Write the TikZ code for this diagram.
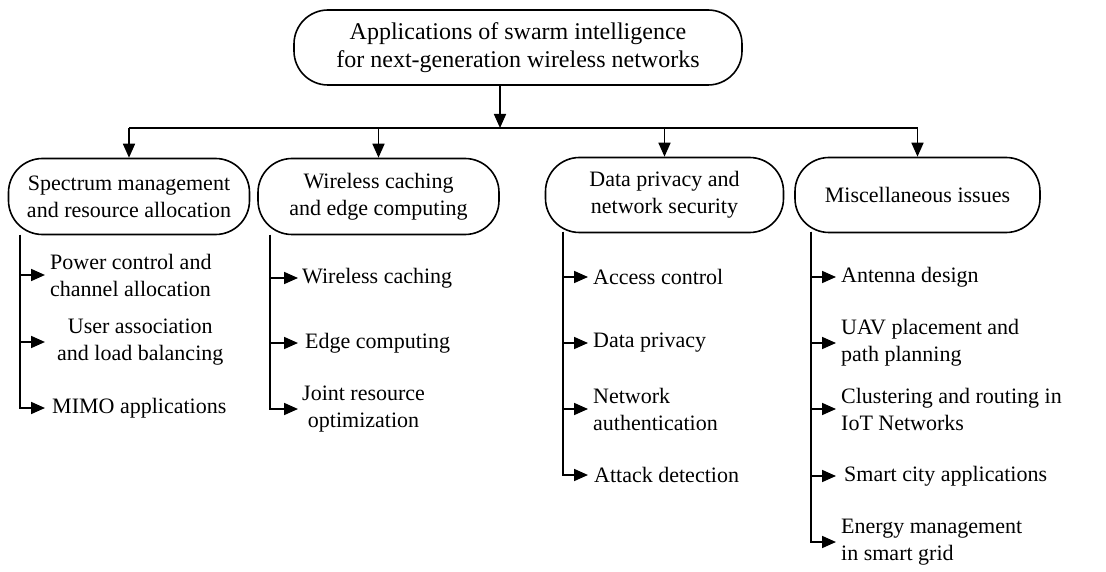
\documentclass[tikz,border=0pt]{standalone}
\usepackage{fontspec}
\setmainfont{Liberation Serif}
\usetikzlibrary{arrows.meta}
\begin{document}
\begin{tikzpicture}[x=1pt,y=-1pt,
  every node/.style={font=\fontsize{22}{27}\selectfont},
  rbox/.style={draw,line width=1.6pt,rounded corners=34pt,align=center,inner sep=0pt},
  item/.style={anchor=west,inner xsep=5pt,inner ysep=0pt},
  ln/.style={line width=1.7pt},
  arr/.style={line width=1.7pt,-{Triangle[length=14pt,width=12pt]}}]
\useasboundingbox (0,0) rectangle (1106,572);
% root
\node[rbox,minimum width=448pt,minimum height=75pt,font=\fontsize{24}{28}\selectfont] (root) at (518,47.5)
  {Applications of swarm intelligence\\for next-generation wireless networks};
% level 1
\node[rbox,minimum width=241pt,minimum height=76pt] (b1) at (129,196.5) {Spectrum management\\and resource allocation};
\node[rbox,minimum width=241pt,minimum height=76pt] (b2) at (378.5,196.5) {Wireless caching\\and edge computing};
\node[rbox,minimum width=238pt,minimum height=75pt] (b3) at (664.5,195) {Data privacy and\\network security};
\node[rbox,minimum width=245pt,minimum height=75pt] (b4) at (917.5,195) {Miscellaneous issues};
% junction
\coordinate (j) at (500,128);
\draw[arr] (root.south -| j) -- (j);
\draw[ln] (b1.north |- j) -- (b4.north |- j);
\foreach \b in {b1,b2,b3,b4} \draw[arr] (\b.north |- j) -- (\b.north);
% spines
\coordinate (s1) at (20,235);
\coordinate (s2) at (270,235);
\coordinate (s3) at (563,232);
\coordinate (s4) at (811,232);
% items box1
\node[item,align=left] (i11) at (45,275) {Power control and\\channel allocation};
\node[item,align=center,inner xsep=12pt] (i12) at (45,342) {User association\\and load balancing};
\node[item,inner xsep=7pt] (i13) at (45,408) {MIMO applications};
% items box2
\node[item,inner xsep=4pt] (i21) at (298,278) {Wireless caching};
\node[item,inner xsep=7pt] (i22) at (298,343) {Edge computing};
\node[item,align=center,inner xsep=4pt] (i23) at (298,409) {Joint resource\\optimization};
% items box3
\node[item] (i31) at (588,277) {Access control};
\node[item] (i32) at (588,343) {Data privacy};
\node[item,align=left] (i33) at (588,409) {Network\\authentication};
\node[item,inner xsep=6pt] (i34) at (588,475) {Attack detection};
% items box4
\node[item] (i41) at (836,277) {Antenna design};
\node[item,align=left] (i42) at (836,343) {UAV placement and\\path planning};
\node[item,align=left] (i43) at (836,409) {Clustering and routing in\\IoT Networks};
\node[item,inner xsep=8pt] (i44) at (836,476) {Smart city applications};
\node[item,align=left] (i45) at (836,542) {Energy management\\in smart grid};
% connectors
\foreach \i in {i11,i12,i13} \draw[arr] (s1) |- (\i.west);
\foreach \i in {i21,i22,i23} \draw[arr] (s2) |- (\i.west);
\foreach \i in {i31,i32,i33,i34} \draw[arr] (s3) |- (\i.west);
\foreach \i in {i41,i42,i43,i44,i45} \draw[arr] (s4) |- (\i.west);
\end{tikzpicture}
\end{document}
